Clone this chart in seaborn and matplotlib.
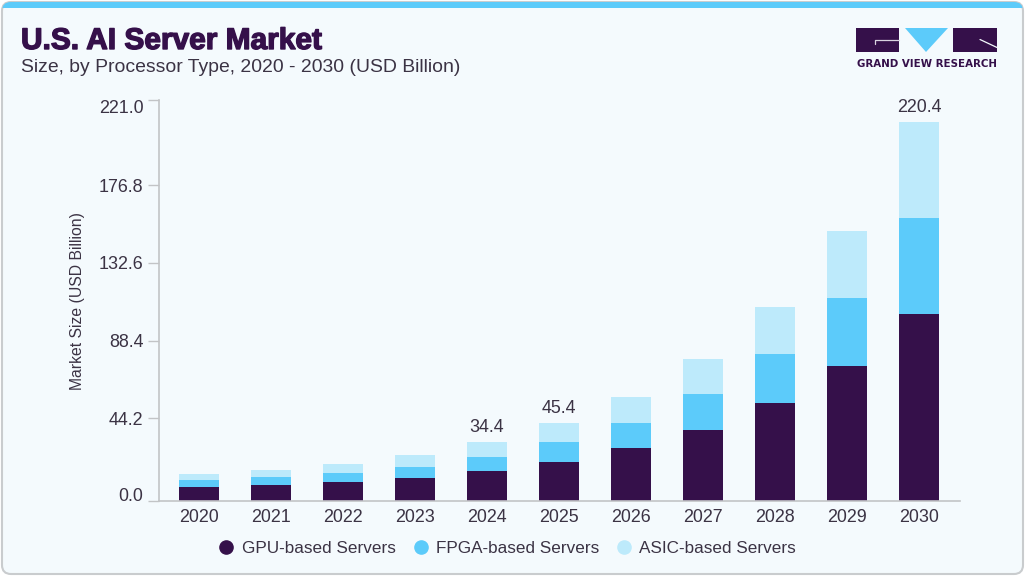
import matplotlib
matplotlib.use('Agg')
import matplotlib.pyplot as plt
from matplotlib.lines import Line2D
from matplotlib.patches import FancyBboxPatch, Polygon, Rectangle
import matplotlib.patheffects as pe
import numpy as np
import pandas as pd
import seaborn as sns

years = ['2020', '2021', '2022', '2023', '2024', '2025', '2026', '2027', '2028', '2029', '2030']
gpu = [8.3, 9.5, 11.1, 13.7, 17.6, 22.7, 31.0, 41.7, 57.2, 78.7, 109.2]
fpga = [4.1, 4.7, 5.4, 6.2, 8.3, 11.8, 14.7, 20.8, 28.5, 39.7, 55.7]
asic = [3.7, 4.1, 5.4, 7.0, 8.5, 10.9, 15.0, 20.2, 27.3, 38.6, 55.5]

series_names = ['GPU-based Servers', 'FPGA-based Servers', 'ASIC-based Servers']
colors = ['#35104A', '#5CCBFA', '#BDEAFB']

# the picture does not space its axis evenly, these are where the ticks sit
tick_pos = [0, 48.3, 93.4, 138.7, 184.0, 233.3]
tick_labels = ['0.0', '44.2', '88.4', '132.6', '176.8', '221.0']
labelled = {'2024': '34.4', '2025': '45.4', '2030': '220.4'}

text_color = '#3B3344'
line_color = '#C2C4C6'
bg_color = '#F4FAFD'

sns.set_theme(style='white')
plt.rcParams['font.family'] = ['Liberation Sans', 'DejaVu Sans']

W, H = 1025, 576
fig = plt.figure(figsize=(W / 100, H / 100), dpi=100, facecolor='white')

# card, top band and logo in pixel coordinates
bg = fig.add_axes([0, 0, 1, 1], zorder=0)
bg.set_xlim(0, W)
bg.set_ylim(H, 0)
bg.axis('off')
card = FancyBboxPatch((2, 2), W - 4, H - 4, boxstyle='round,pad=0,rounding_size=9',
                      facecolor=bg_color, edgecolor='#C9CCCE', linewidth=1.5)
bg.add_patch(card)
band = Rectangle((0, 0), W, 8, facecolor='#5CCBFA', edgecolor='none')
bg.add_patch(band)
band.set_clip_path(card)

bg.add_patch(Rectangle((856, 28), 43, 24, facecolor=colors[0], edgecolor='none'))
bg.add_patch(Rectangle((953, 28), 44, 24, facecolor=colors[0], edgecolor='none'))
bg.add_patch(Polygon([(905, 28), (948, 28), (926, 52)], facecolor=colors[1], edgecolor='none'))
bg.plot([875, 875, 899], [44, 40, 40], color='#D9D3E0', lw=0.9)
bg.plot([980, 997], [39.5, 47.5], color='#F4FAFD', lw=0.9)
bg.text(926.5, 64, 'GRAND VIEW RESEARCH', color=colors[0], fontsize=7.4, fontweight='bold',
        family='DejaVu Sans', ha='center', va='center')

bg.text(21, 41, 'U.S. AI Server Market', color=colors[0], fontsize=21.5, fontweight='bold',
        ha='left', va='center',
        path_effects=[pe.withStroke(linewidth=1.0, foreground=colors[0])])
bg.text(21, 68, 'Size, by Processor Type, 2020 - 2030 (USD Billion)', color=text_color,
        fontsize=13.95, ha='left', va='center')

left, right, top, bottom = 158.7, 960, 100.3, 501.3
ax = fig.add_axes([left / W, 1 - bottom / H, (right - left) / W, (bottom - top) / H], zorder=1)
ax.patch.set_alpha(0)

df = pd.DataFrame({'year': years, 'gpu': gpu, 'fpga': fpga, 'asic': asic})
base = np.zeros(len(df))
for col, color in zip(['gpu', 'fpga', 'asic'], colors):
    sns.barplot(data=df, x='year', y=col, bottom=base, color=color, saturation=1,
                width=0.56, linewidth=0, ax=ax)
    base = base + df[col].values

for i, year in enumerate(years):
    if year in labelled:
        ax.annotate(labelled[year], (i, base[i]), xytext=(0, 10.5), textcoords='offset points',
                    ha='center', va='center', color=text_color, fontsize=12.9)

ax.set_xlim(-0.56, 10.57)
ax.set_ylim(0, 233.3)
ax.set_yticks(tick_pos)
ax.set_yticklabels(tick_labels)
ax.get_yticklabels()[0].set_verticalalignment('baseline')
ax.get_yticklabels()[-1].set_verticalalignment('top')
ax.tick_params(axis='y', length=8, width=1, color=line_color, labelcolor=text_color,
               labelsize=12.9, pad=3, left=True)
ax.tick_params(axis='x', length=0, labelcolor=text_color, labelsize=12.9, pad=5.5)
ax.set_xlabel('')
ax.set_ylabel('Market Size (USD Billion)', color=text_color, fontsize=11.3)
ax.yaxis.set_label_coords((85 - left) / (right - left), 0.5)
for side in ['top', 'right']:
    ax.spines[side].set_visible(False)
for side in ['left', 'bottom']:
    ax.spines[side].set_color(line_color)
    ax.spines[side].set_linewidth(1.2)

handles = [Line2D([], [], marker='o', linestyle='none', markersize=9.5, color=c) for c in colors]
fig.legend(handles, series_names, loc='center', bbox_to_anchor=(507 / W, 1 - 548.5 / H), ncol=3,
           frameon=False, fontsize=12.3, labelcolor=text_color, handlelength=1, handletextpad=0.4,
           columnspacing=0.95)

fig.savefig('out.png', dpi=100, facecolor='white')
